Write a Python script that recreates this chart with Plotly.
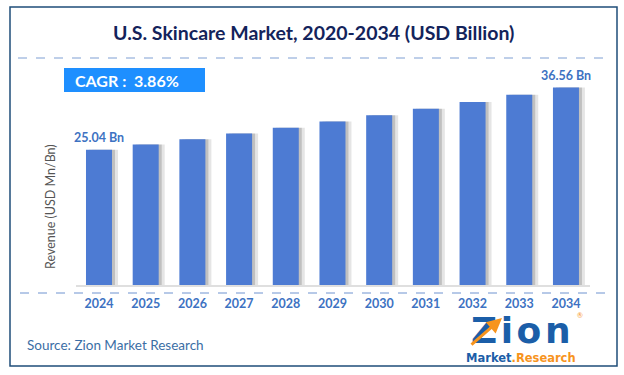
import plotly.graph_objects as go

W, H = 624, 375

years = ["2024", "2025", "2026", "2027", "2028", "2029", "2030", "2031", "2032", "2033", "2034"]
revenue = [25.04, 26.01, 27.01, 28.05, 29.14, 30.26, 31.43, 32.65, 33.91, 35.22, 36.56]
label_years = ["2024", "2034"]
label_values = [25.04, 36.56]
label_texts = ["25.04 Bn", "36.56 Bn"]
title_text = "U.S. Skincare Market, 2020-2034 (USD Billion)"
cagr_text = "CAGR :  3.86%"
y_title = "Revenue (USD Mn/Bn)"
source_text = "Source: Zion Market Research"

FONT = "Lato"
BAR_COLOR = "#4d7bd3"
LABEL_COLOR = "#3d72c2"


def px(x):
    return x / W


def py(y):
    return 1 - y / H


fig = go.Figure()

bw = 0.557
fig.add_trace(go.Bar(x=years, y=revenue, width=bw, offset=-bw / 2 + 6 / 46.7,
                     marker=dict(color="rgba(0,0,0,0.10)", line=dict(width=0)),
                     hoverinfo="skip", showlegend=False))
fig.add_trace(go.Bar(x=years, y=revenue, width=bw, offset=-bw / 2 + 3 / 46.7,
                     marker=dict(color="rgba(0,0,0,0.16)", line=dict(width=0)),
                     hoverinfo="skip", showlegend=False))
fig.add_trace(go.Bar(x=years, y=revenue, width=bw, offset=-bw / 2,
                     marker=dict(color=BAR_COLOR, line=dict(width=0)),
                     showlegend=False))

annotations = []
for yr, v, t in zip(label_years, label_values, label_texts):
    annotations.append(dict(x=years.index(yr), y=v, xref="x", yref="y", text=t, showarrow=False,
                            xanchor="center", yanchor="bottom", yshift=3,
                            font=dict(family=FONT, size=12.5, color=LABEL_COLOR, weight="bold")))

annotations += [
    dict(x=px(313), y=py(33), xref="paper", yref="paper", text=title_text, showarrow=False,
         xanchor="center", yanchor="middle",
         font=dict(family=FONT, size=19.5, color="#13235b", weight="bold")),
    dict(x=px(127), y=py(80.5), xref="paper", yref="paper", text=cagr_text, showarrow=False,
         xanchor="center", yanchor="middle",
         font=dict(family=FONT, size=16, color="white", weight="bold")),
    dict(x=px(50), y=py(207), xref="paper", yref="paper", text=y_title, showarrow=False,
         textangle=-90, xanchor="center", yanchor="middle",
         font=dict(family=FONT, size=12.5, color="#555555")),
    dict(x=px(25), y=py(345), xref="paper", yref="paper", text=source_text, showarrow=False,
         xanchor="left", yanchor="middle",
         font=dict(family=FONT, size=13.5, color="#3b6ea5")),
    # logo
    dict(x=px(521), y=py(330), xref="paper", yref="paper", text="Z\u200ai\u200ao\u200an",
         showarrow=False, xanchor="center", yanchor="middle", height=28,
         font=dict(family="DejaVu Sans", size=36, color="#1b5ea8", weight="bold")),
    dict(x=px(521), y=py(358), xref="paper", yref="paper",
         text="<span style='color:#1b5ea8'>Market</span><span style='color:#f7941d'>.Research</span>",
         showarrow=False, xanchor="center", yanchor="middle", height=12,
         font=dict(family="DejaVu Sans", size=11.5, weight="bold")),
    dict(x=px(585), y=py(321), xref="paper", yref="paper", text="®", showarrow=False,
         font=dict(family=FONT, size=7, color="#f7941d")),
    dict(x=px(502), y=py(318), xref="paper", yref="paper", ax=-32, ay=28, text="",
         showarrow=True, arrowhead=2, arrowsize=1, arrowwidth=3, arrowcolor="#f7941d"),
]

shapes = [
    # outer border
    dict(type="rect", xref="paper", yref="paper", x0=px(10), x1=px(617), y0=py(7), y1=py(366),
         line=dict(color="#1f4e79", width=1.5), fillcolor="rgba(0,0,0,0)"),
    # dashed line under title
    dict(type="line", xref="paper", yref="paper", x0=px(18), x1=px(606), y0=py(58), y1=py(58),
         line=dict(color="#7f9fd3", width=1, dash="dash")),
    # CAGR box
    dict(type="rect", xref="paper", yref="paper", x0=px(64), x1=px(205), y0=py(68), y1=py(92),
         line=dict(width=0), fillcolor="#1e8fff", layer="below"),
    # baseline
    dict(type="line", xref="paper", yref="paper", x0=px(76), x1=px(590), y0=py(286), y1=py(286),
         line=dict(color="#d4d4d4", width=1.5)),
    # dashed line under axis
    dict(type="line", xref="paper", yref="paper", x0=px(20), x1=px(607), y0=py(293), y1=py(293),
         line=dict(color="#6f93d0", width=1, dash="dash")),
]

fig.update_layout(
    width=W, height=H,
    margin=dict(l=0, r=0, t=0, b=0),
    paper_bgcolor="white", plot_bgcolor="white",
    barmode="overlay",
    showlegend=False,
    annotations=annotations,
    shapes=shapes,
    xaxis=dict(domain=[px(75.65), px(589.3)], range=[-0.5, 10.5], type="category",
               showgrid=False, zeroline=False, showline=False,
               ticks="outside", ticklen=7, tickcolor="rgba(0,0,0,0)",
               tickfont=dict(family=FONT, size=12.5, color=LABEL_COLOR, weight="bold")),
    yaxis=dict(domain=[py(285), py(69)], range=[0, 40], visible=False,
               showgrid=False, zeroline=False),
)

fig.write_html("out.html", config={"displayModeBar": False},
               post_script="document.body.style.margin='0';document.body.style.overflow='hidden';")
